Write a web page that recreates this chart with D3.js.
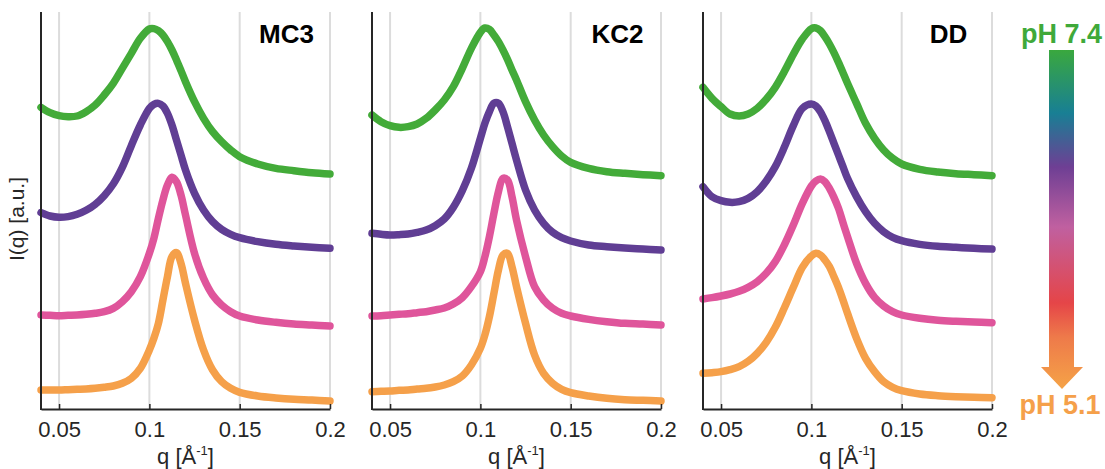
<!DOCTYPE html>
<html>
<head>
<meta charset="utf-8">
<script src="https://cdn.jsdelivr.net/npm/d3@7"></script>
<style>
  body { margin: 0; background: #fff; }
  text { font-family: "Liberation Sans", Arial, sans-serif; }
</style>
</head>
<body>
<script>
// scattering vector q [1/A], shared by every curve
const q = [0.04, 0.045, 0.05, 0.055, 0.06, 0.065, 0.07, 0.075, 0.08, 0.085, 0.09, 0.095,
           0.1, 0.1025, 0.105, 0.1075, 0.11, 0.1125, 0.115, 0.1175, 0.12,
           0.125, 0.13, 0.135, 0.14, 0.145, 0.15, 0.16, 0.17, 0.18, 0.19, 0.2];

// I(q), stacked with offsets (a.u.)
const mc3Green  = [905,889,880,877,879,892,912,942,977,1022,1067,1112,1140,1141,1135,1122,1102,1077,1047,1015,982,922,872,832,802,777,757,735,722,715,709,705];
const mc3Purple = [589,579,575,577,584,596,614,640,675,725,790,852,902,914,917,909,887,852,807,762,717,647,597,562,539,524,514,502,494,489,485,482];
const mc3Pink   = [282,281,280,281,282,284,287,292,302,322,352,397,467,512,572,627,672,695,682,642,582,467,392,342,312,292,279,267,260,255,252,249];
const mc3Orange = [57,57,57,58,59,60,62,65,69,77,92,122,177,212,257,327,397,457,469,437,377,267,177,117,82,62,50,39,33,29,27,24];

const kc2Green  = [882,862,850,845,847,855,872,897,927,967,1022,1082,1130,1143,1139,1122,1102,1077,1049,1017,987,922,867,822,787,759,740,722,712,707,703,700];
const kc2Purple = [527,524,522,523,525,530,537,550,570,605,655,722,812,857,892,917,917,892,847,797,747,657,597,557,530,514,504,492,487,483,480,477];
const kc2Pink   = [279,280,282,284,286,289,292,297,303,315,334,367,412,457,517,587,652,692,687,637,567,457,367,327,302,287,279,269,262,257,255,252];
const kc2Orange = [52,53,54,56,57,60,62,66,72,82,99,132,182,222,277,347,417,462,467,427,367,257,162,107,77,59,49,39,32,28,26,24];

const ddGreen  = [965,932,907,885,879,885,902,929,965,1012,1064,1110,1141,1143,1135,1117,1095,1069,1040,1009,977,917,857,812,777,752,735,719,711,706,703,700];
const ddPurple = [667,637,625,620,622,632,652,684,727,785,850,902,915,909,892,865,832,797,762,727,692,637,592,557,532,515,505,494,488,485,482,480];
const ddPink   = [330,334,339,345,353,365,382,407,442,492,552,617,669,684,690,682,662,635,602,559,517,437,377,335,309,292,282,272,266,263,261,259];
const ddOrange = [107,109,112,118,127,143,167,200,245,303,365,425,459,467,462,447,427,397,365,327,287,212,152,112,82,65,55,45,40,37,35,34];

const samples = ["MC3", "KC2", "DD"];
const sampleCurves = [
  [mc3Green, mc3Purple, mc3Pink, mc3Orange],
  [kc2Green, kc2Purple, kc2Pink, kc2Orange],
  [ddGreen, ddPurple, ddPink, ddOrange]
];
const curveColors = ["#43ab39", "#603e94", "#df559b", "#f5a04a"];
const xTicks = [0.05, 0.1, 0.15, 0.2];
const phLabels = ["pH 7.4", "pH 5.1"];

const W = 1105, H = 469;
const plotTop = 12, plotBottom = 409;
const panelLeft = [41, 372, 703], panelW = 289;
const ink = "#262626";

const svg = d3.select("body").append("svg")
  .attr("width", W).attr("height", H);

const y = d3.scaleLinear().domain([0, 1191]).range([plotBottom, plotTop]);

samples.forEach(function(name, i) {
  const left = panelLeft[i];
  const x = d3.scaleLinear().domain([0.04, 0.2]).range([left, left + panelW]);
  const g = svg.append("g");

  // grid
  g.selectAll("line.grid").data(xTicks).enter().append("line")
    .attr("x1", d => x(d)).attr("x2", d => x(d))
    .attr("y1", plotTop).attr("y2", plotBottom)
    .attr("stroke", "#dcdcdc").attr("stroke-width", 2);

  // curves
  const line = d3.line()
    .x((d, k) => x(q[k]))
    .y(d => y(d))
    .curve(d3.curveCatmullRom);
  sampleCurves[i].forEach(function(vals, c) {
    g.append("path")
      .attr("d", line(vals))
      .attr("fill", "none")
      .attr("stroke", curveColors[c])
      .attr("stroke-width", 7.5)
      .attr("stroke-linecap", "round")
      .attr("stroke-linejoin", "round");
  });

  // axes
  const ax = g.append("g")
    .attr("transform", "translate(0," + plotBottom + ")")
    .call(d3.axisBottom(x).tickValues(xTicks).tickSize(-5).tickSizeOuter(0)
      .tickPadding(12).tickFormat(d => String(d)));
  ax.select(".domain").attr("stroke", ink).attr("stroke-width", 2);
  ax.selectAll(".tick line").attr("stroke", ink).attr("stroke-width", 1.5);
  ax.selectAll(".tick text").attr("fill", ink)
    .style("font-size", "22px").style("font-family", "'Liberation Sans', Arial, sans-serif");

  g.append("line")
    .attr("x1", left).attr("x2", left)
    .attr("y1", plotTop).attr("y2", plotBottom + 1)
    .attr("stroke", ink).attr("stroke-width", 2);

  // x label
  const xl = g.append("text")
    .attr("x", left + panelW / 2).attr("y", 464)
    .attr("text-anchor", "middle").attr("fill", ink)
    .style("font-size", "22px");
  xl.append("tspan").text("q [Å");
  xl.append("tspan").text("-1").style("font-size", "13px").attr("dy", -9);
  xl.append("tspan").text("]").attr("dy", 9);

  // sample title
  g.append("text")
    .attr("x", left + 245.5).attr("y", 43)
    .attr("text-anchor", "middle").attr("fill", "#000")
    .style("font-size", "26px").style("font-weight", "bold")
    .text(name);
});

// y label
svg.append("text")
  .attr("transform", "translate(24,219) rotate(-90)")
  .attr("text-anchor", "middle").attr("fill", ink)
  .style("font-size", "21px")
  .text("I(q) [a.u.]");

// pH arrow legend
const grad = svg.append("defs").append("linearGradient")
  .attr("id", "phgrad").attr("gradientUnits", "userSpaceOnUse")
  .attr("x1", 0).attr("x2", 0).attr("y1", 50).attr("y2", 389);
[[0, "#3aa83e"], [0.186, "#187f94"], [0.345, "#6e3f94"], [0.522, "#c060a0"],
 [0.746, "#e54548"], [0.847, "#ee7a4a"], [1, "#f5a347"]].forEach(function(s) {
  grad.append("stop").attr("offset", s[0]).attr("stop-color", s[1]);
});
svg.append("path")
  .attr("d", "M1049,50 L1074,50 L1074,367 L1083,367 L1062,389 L1041,367 L1049,367 Z")
  .attr("fill", "url(#phgrad)");

svg.append("text")
  .attr("x", 1061.5).attr("y", 43).attr("text-anchor", "middle")
  .attr("fill", "#3fa93a").style("font-size", "27px").style("font-weight", "bold")
  .text(phLabels[0]);
svg.append("text")
  .attr("x", 1060).attr("y", 414).attr("text-anchor", "middle")
  .attr("fill", "#f5a04a").style("font-size", "27px").style("font-weight", "bold")
  .text(phLabels[1]);
</script>
</body>
</html>
